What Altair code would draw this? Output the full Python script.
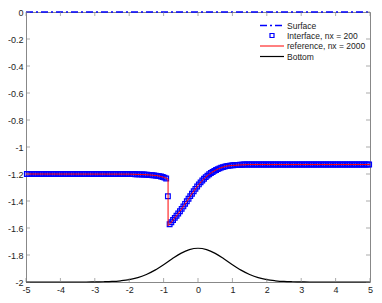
import altair as alt
import pandas as pd
import numpy as np

# ---------------- data ----------------
x_ticks = [-5, -4, -3, -2, -1, 0, 1, 2, 3, 4, 5]
y_ticks = [0, -0.2, -0.4, -0.6, -0.8, -1, -1.2, -1.4, -1.6, -1.8, -2]

legend_labels = ["Surface", "Interface, nx = 200", "reference, nx = 2000", "Bottom"]

surface_x = [-5.0, 5.0]
surface_y = [0.0, 0.0]

# cell centres of the nx = 200 grid on [-5, 5]
interface_x = list(np.round(np.linspace(-4.975, 4.975, 200), 3))
interface_y = [
    -1.200, -1.200, -1.200, -1.200, -1.200, -1.200, -1.200, -1.200, -1.200, -1.200,
    -1.200, -1.200, -1.200, -1.200, -1.200, -1.200, -1.200, -1.200, -1.200, -1.200,
    -1.200, -1.200, -1.200, -1.200, -1.200, -1.200, -1.200, -1.200, -1.200, -1.200,
    -1.200, -1.200, -1.200, -1.200, -1.200, -1.200, -1.200, -1.200, -1.200, -1.200,
    -1.200, -1.200, -1.200, -1.200, -1.200, -1.200, -1.200, -1.200, -1.200, -1.200,
    -1.200, -1.200, -1.200, -1.200, -1.200, -1.200, -1.200, -1.200, -1.200, -1.200,
    -1.201, -1.201, -1.201, -1.202, -1.202, -1.203, -1.203, -1.204, -1.204, -1.205,
    -1.206, -1.207, -1.208, -1.209, -1.210, -1.212, -1.214, -1.216, -1.219, -1.222,
    -1.227, -1.233,
    -1.365,
    -1.572, -1.557, -1.541, -1.525, -1.509, -1.493, -1.476, -1.458, -1.440, -1.421,
    -1.402, -1.383, -1.364, -1.346, -1.328, -1.310, -1.293, -1.277, -1.262, -1.248,
    -1.235, -1.223, -1.212, -1.202, -1.193, -1.185, -1.177, -1.170, -1.164, -1.158,
    -1.153, -1.149, -1.145, -1.142, -1.140, -1.138, -1.136, -1.135, -1.134, -1.133,
    -1.132, -1.131, -1.131, -1.130,
    -1.130, -1.130, -1.130, -1.130, -1.130, -1.130, -1.130, -1.130, -1.130, -1.130,
    -1.130, -1.130, -1.130, -1.130, -1.130, -1.130, -1.130, -1.130, -1.130, -1.130,
    -1.130, -1.130, -1.130, -1.130, -1.130, -1.130, -1.130, -1.130, -1.130, -1.130,
    -1.130, -1.130, -1.130, -1.130, -1.130, -1.130, -1.130, -1.130, -1.130, -1.130,
    -1.130, -1.130, -1.130, -1.130, -1.130, -1.130, -1.130, -1.130, -1.130, -1.130,
    -1.130, -1.130, -1.130, -1.130, -1.130, -1.130, -1.130, -1.130, -1.130, -1.130,
    -1.130, -1.130, -1.130, -1.130, -1.130, -1.130, -1.130, -1.130, -1.130, -1.130,
    -1.130, -1.130, -1.130,
]

reference_x = [-5.0, -2.0, -1.6, -1.4, -1.2, -1.1, -1.0, -0.95, -0.9, -0.87, -0.87,
               -0.8, -0.7, -0.6, -0.5, -0.4, -0.3, -0.2, -0.1, 0.0, 0.1, 0.2, 0.3,
               0.4, 0.5, 0.6, 0.7, 0.8, 0.9, 1.0, 1.2, 1.5, 5.0]
reference_y = [-1.200, -1.201, -1.204, -1.207, -1.212, -1.217, -1.224, -1.229, -1.234,
               -1.238, -1.583, -1.565, -1.533, -1.501, -1.467, -1.431, -1.393, -1.355,
               -1.319, -1.285, -1.255, -1.229, -1.207, -1.189, -1.173, -1.161, -1.151,
               -1.143, -1.139, -1.137, -1.133, -1.130, -1.130]

bottom_x = [-5.0, -4.75, -4.5, -4.25, -4.0, -3.75, -3.5, -3.25, -3.0, -2.75, -2.5,
            -2.25, -2.0, -1.75, -1.5, -1.25, -1.0, -0.75, -0.5, -0.25, 0.0,
            0.25, 0.5, 0.75, 1.0, 1.25, 1.5, 1.75, 2.0, 2.25, 2.5,
            2.75, 3.0, 3.25, 3.5, 3.75, 4.0, 4.25, 4.5, 4.75, 5.0]
bottom_y = [-2.000, -2.000, -2.000, -2.000, -2.000, -2.000, -2.000, -2.000, -1.999, -1.998, -1.996,
            -1.991, -1.983, -1.968, -1.944, -1.912, -1.872, -1.828, -1.788, -1.760, -1.750,
            -1.760, -1.788, -1.828, -1.872, -1.912, -1.944, -1.968, -1.983, -1.991, -1.996,
            -1.998, -1.999, -2.000, -2.000, -2.000, -2.000, -2.000, -2.000, -2.000, -2.000]

# ---------------- styling ----------------
BLUE = "#0000ff"
RED = "#ff0000"
DASHDOT = [7, 3, 2, 3]
FONT = "Liberation Sans"
FRAME = "#888888"
W, H = 344, 270

xs = alt.Scale(domain=[-5, 5], nice=False, zero=False)
ys = alt.Scale(domain=[-2, 0], nice=False, zero=False)

x_axis = alt.Axis(values=x_ticks, labelExpr="'' + datum.value", title=None)
y_axis = alt.Axis(values=y_ticks, labelExpr="'' + datum.value", title=None)

surface_df = pd.DataFrame({"x": surface_x, "y": surface_y})
interface_df = pd.DataFrame({"x": interface_x, "y": interface_y})
reference_df = pd.DataFrame({"x": reference_x, "y": reference_y,
                             "i": list(range(len(reference_x)))})
bottom_df = pd.DataFrame({"x": bottom_x, "y": bottom_y})

X = alt.X("x:Q", scale=xs, axis=x_axis)
Y = alt.Y("y:Q", scale=ys, axis=y_axis)

surface = alt.Chart(surface_df).mark_line(color=BLUE, strokeDash=DASHDOT, strokeWidth=1.5).encode(
    x=X, y=Y)
interface = alt.Chart(interface_df).mark_point(shape="square", filled=False, size=22,
                                                color=BLUE, strokeWidth=1.2, opacity=1).encode(
    x=X, y=Y)
reference = alt.Chart(reference_df).mark_line(color=RED, strokeWidth=1).encode(
    x=X, y=Y, order=alt.Order("i:Q"))
bottom = alt.Chart(bottom_df).mark_line(color="black", strokeWidth=1.2,
                                        interpolate="monotone").encode(x=X, y=Y)

# inward tick marks (box style)
xt_df_b = pd.DataFrame({"x": x_ticks, "y": [-2] * len(x_ticks)})
xt_df_t = pd.DataFrame({"x": x_ticks, "y": [0] * len(x_ticks)})
yt_df_l = pd.DataFrame({"x": [-5] * len(y_ticks), "y": y_ticks})
yt_df_r = pd.DataFrame({"x": [5] * len(y_ticks), "y": y_ticks})

def vticks(df, off):
    return alt.Chart(df).mark_tick(orient="vertical", size=4, thickness=1, color=FRAME,
                                   yOffset=off).encode(x=X, y=Y)

def hticks(df, off):
    return alt.Chart(df).mark_tick(orient="horizontal", size=4, thickness=1, color=FRAME,
                                   xOffset=off).encode(x=X, y=Y)

ticks = [vticks(xt_df_b, -2), vticks(xt_df_t, 2), hticks(yt_df_l, 2), hticks(yt_df_r, -2)]

# legend (manual, top right inside the plot)
one = pd.DataFrame({"a": [0]})
LX1, LX2, TX = W - 110, W - 86, W - 83
rows_y = [13.5, 23.5, 34, 44.5]
leg = [
    alt.Chart(one).mark_rule(color=BLUE, strokeDash=DASHDOT, strokeWidth=1.5).encode(
        x=alt.value(LX1), x2=alt.value(LX2), y=alt.value(rows_y[0])),
    alt.Chart(one).mark_point(shape="square", filled=False, size=16, color=BLUE,
                              strokeWidth=1.2, opacity=1).encode(
        x=alt.value((LX1 + LX2) / 2), y=alt.value(rows_y[1])),
    alt.Chart(one).mark_rule(color=RED, strokeWidth=1).encode(
        x=alt.value(LX1), x2=alt.value(LX2), y=alt.value(rows_y[2])),
    alt.Chart(one).mark_rule(color="black", strokeWidth=1.2).encode(
        x=alt.value(LX1), x2=alt.value(LX2), y=alt.value(rows_y[3])),
]
for lab, yy in zip(legend_labels, rows_y):
    leg.append(alt.Chart(one).mark_text(align="left", baseline="middle", fontSize=8.5,
                                        font=FONT, color="#222222").encode(
        x=alt.value(TX), y=alt.value(yy), text=alt.value(lab)))

chart = alt.layer(surface, interface, reference, bottom, *ticks, *leg).properties(
    width=W, height=H,
    autosize=alt.AutoSizeParams(type="none"),
    padding={"left": 18, "top": 4, "right": 4, "bottom": 13},
).configure_view(stroke=FRAME, strokeWidth=1).configure_axis(
    grid=False, domain=False, ticks=False, labelPadding=3, labelFontSize=9,
    labelFont=FONT, labelColor="#222222", labelOverlap=False, labelFlush=False,
    labelBound=False,
)

chart.save("out.html", embed_options={"renderer": "svg", "actions": False})
